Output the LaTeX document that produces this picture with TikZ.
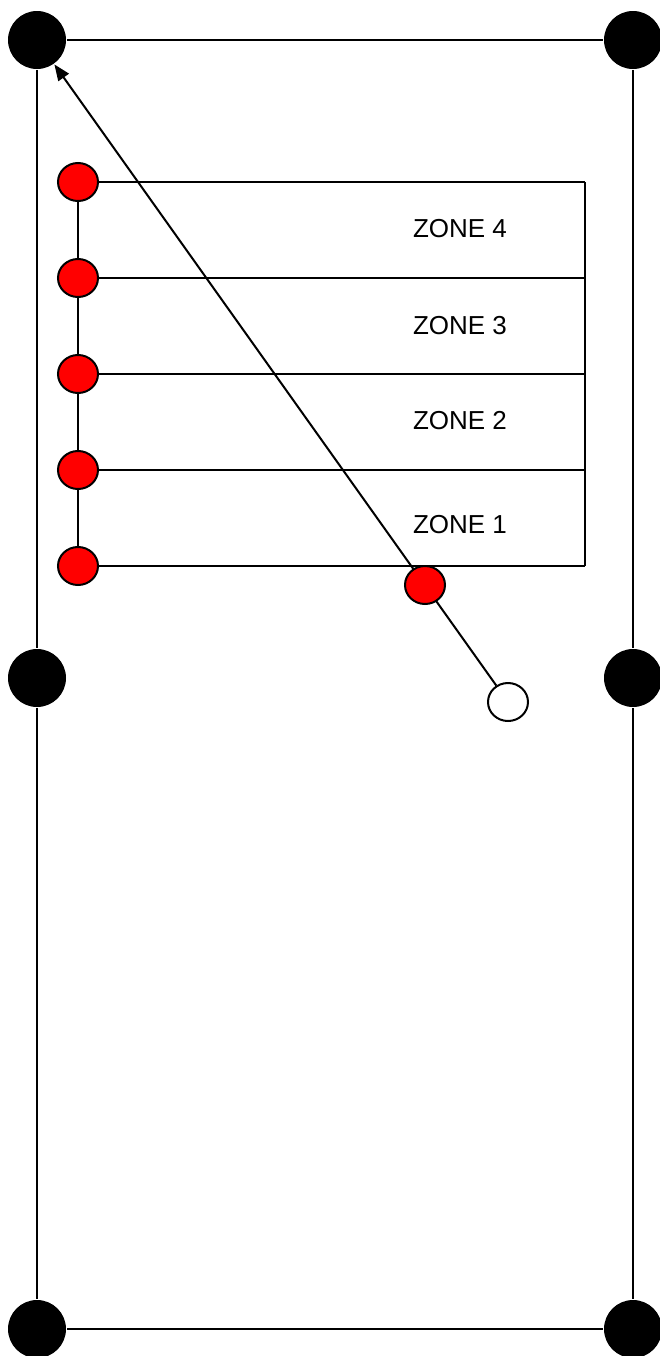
\documentclass[tikz,border=0pt]{standalone}
\usepackage{fontspec}
\setmainfont{Liberation Sans}
\usetikzlibrary{shapes.geometric,arrows.meta}

\tikzset{
    poteau/.style={circle,fill=black,minimum size=43.5pt,inner sep=0pt},
    capteur/.style={ellipse,draw,fill=red,minimum width=30pt,minimum height=28.5pt,inner sep=0pt},
    libre/.style={ellipse,draw,fill=white,minimum width=30pt,minimum height=28.5pt,inner sep=0pt},
    zone/.style={font=\fontsize{19.5}{23}\selectfont}
}

\begin{document}
\begin{tikzpicture}[x=0.75pt,y=-0.75pt,line width=1.5pt]
\useasboundingbox (0,0) rectangle (660,1356);

% Poteaux
\node[poteau] (p1) at (37,40) {};
\node[poteau] (p2) at (633,40) {};
\node[poteau] (p3) at (37,678) {};
\node[poteau] (p4) at (633,678) {};
\node[poteau] (p5) at (37,1329) {};
\node[poteau] (p6) at (633,1329) {};

\draw (p1) -- (p2);
\draw (p1) -- (p3);
\draw (p3) -- (p5);
\draw (p5) -- (p6);
\draw (p2) -- (p4);
\draw (p4) -- (p6);

% Zones
\foreach \i/\y in {0/566,1/470,2/374,3/278,4/182}
{
    \coordinate (z\i) at (78,\y);
    \coordinate (b\i) at (585,\y);
}

\draw (z0) -- (z4);
\draw (b0) -- (b4);
\foreach \i in {0,...,4}
{
    \draw (z\i) -- (b\i);
    \node[capteur] (c\i) at (z\i) {};
}

\node[zone] (t4) at (460,229) {ZONE 4};
\node[zone] (t3) at (460,326) {ZONE 3};
\node[zone] (t2) at (460,421) {ZONE 2};
\node[zone] (t1) at (460,525) {ZONE 1};

% Trajet
\node[libre] (l) at (508,702) {};
\draw[-{Triangle[length=12pt,width=9.5pt]}] (l) -- (p1);
\node[capteur] (c) at (425,585) {};

\end{tikzpicture}
\end{document}
